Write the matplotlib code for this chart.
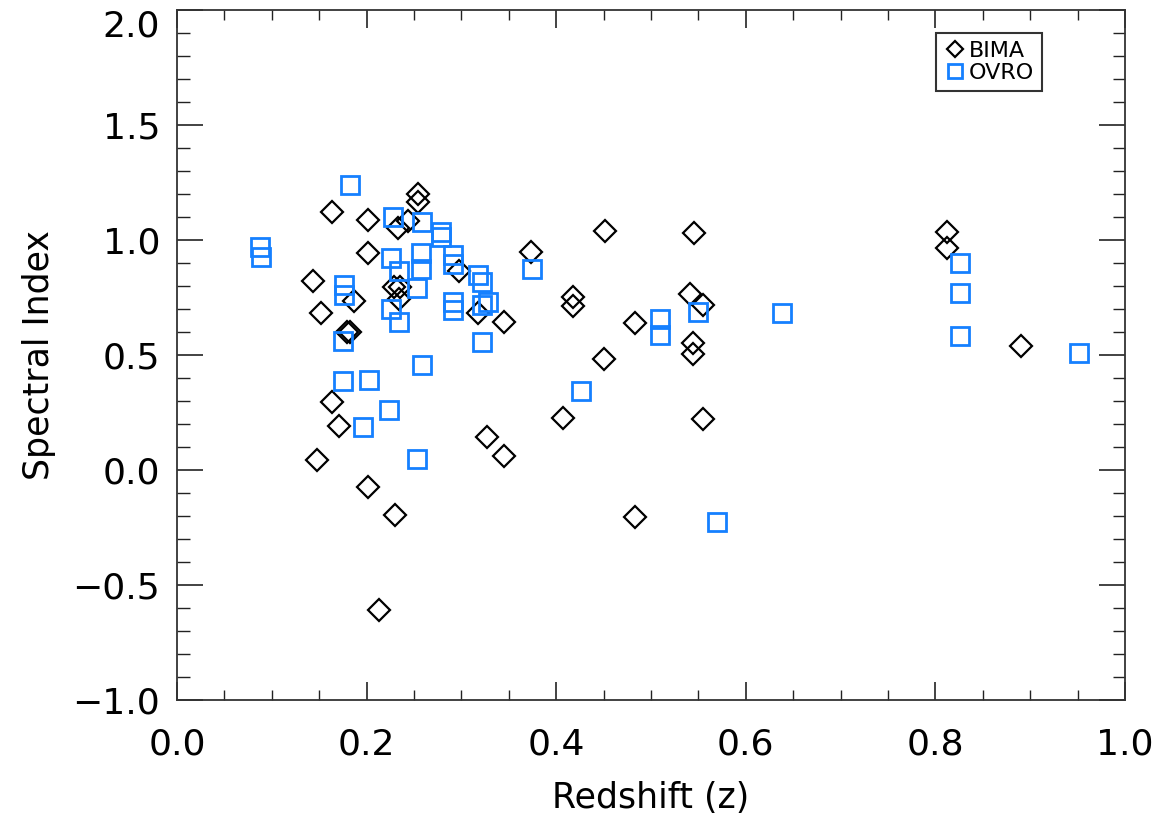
import matplotlib
matplotlib.use("Agg")
import matplotlib.pyplot as plt
from matplotlib.ticker import MultipleLocator

# BIMA points (redshift, spectral index)
bima_z = [0.164, 0.202, 0.202, 0.143, 0.187, 0.152, 0.179, 0.183, 0.164, 0.171,
          0.148, 0.202, 0.2295, 0.213, 0.2545, 0.2545, 0.244, 0.2334, 0.229, 0.235,
          0.2345, 0.2977, 0.3178, 0.3448, 0.373, 0.418, 0.418, 0.4067, 0.3266, 0.345,
          0.452, 0.5455, 0.483, 0.541, 0.555, 0.5445, 0.5445, 0.4506, 0.555, 0.483,
          0.8127, 0.8127, 0.890]
bima_alpha = [1.12, 1.087, 0.945, 0.822, 0.736, 0.684, 0.602, 0.598, 0.294, 0.191,
              0.043, -0.072, -0.196, -0.609, 1.20, 1.164, 1.083, 1.051, 0.795, 0.795,
              0.745, 0.865, 0.681, 0.645, 0.949, 0.754, 0.713, 0.225, 0.145, 0.061,
              1.039, 1.029, 0.638, 0.765, 0.717, 0.553, 0.504, 0.481, 0.222, -0.206,
              1.036, 0.964, 0.540]

# OVRO points
ovro_z = [0.088, 0.089, 0.1824, 0.176, 0.176, 0.175, 0.175, 0.203, 0.196, 0.224,
          0.253, 0.258, 0.2275, 0.258, 0.279, 0.279, 0.2257, 0.2573, 0.2573, 0.2907,
          0.2907, 0.2338, 0.2528, 0.2257, 0.2338, 0.2907, 0.2907, 0.3178, 0.3216, 0.3216,
          0.3276, 0.3216, 0.3747, 0.426, 0.5097, 0.5097, 0.5497, 0.5698, 0.6387, 0.8257,
          0.8257, 0.8257, 0.9515]
ovro_alpha = [0.971, 0.925, 1.239, 0.804, 0.761, 0.561, 0.388, 0.391, 0.188, 0.261,
              0.048, 0.455, 1.101, 1.080, 1.036, 1.014, 0.923, 0.945, 0.873, 0.935,
              0.894, 0.865, 0.790, 0.699, 0.645, 0.732, 0.696, 0.848, 0.819, 0.717,
              0.732, 0.558, 0.872, 0.345, 0.655, 0.587, 0.688, -0.225, 0.681, 0.899,
              0.771, 0.583, 0.510]

blue = "#1580ff"

fig = plt.figure(figsize=(11.64, 8.19), dpi=100)
ax = fig.add_axes([0.152, 0.1453, 0.8145, 0.8425])

ax.plot(bima_z, bima_alpha, linestyle="none", marker="D", ms=11.5,
        mfc="none", mec="black", mew=1.6, label="BIMA")
ax.plot(ovro_z, ovro_alpha, linestyle="none", marker="s", ms=13.5,
        mfc="none", mec=blue, mew=2.0, label="OVRO")

ax.set_xlim(0.0, 1.0)
ax.set_ylim(-1.0, 2.0)
ax.xaxis.set_major_locator(MultipleLocator(0.2))
ax.xaxis.set_minor_locator(MultipleLocator(0.05))
ax.yaxis.set_major_locator(MultipleLocator(0.5))
ax.yaxis.set_minor_locator(MultipleLocator(0.1))
ax.xaxis.set_major_formatter(plt.FuncFormatter(lambda v, p: "%.1f" % v))
ax.yaxis.set_major_formatter(plt.FuncFormatter(lambda v, p: ("%.1f" % v).replace("-", "\u2212")))

ax.tick_params(which="both", direction="in", top=True, right=True, labelsize=26, color="#222222")
ax.tick_params(axis="x", which="major", length=13, width=1.2, pad=20)
ax.tick_params(axis="x", which="minor", length=7, width=1.0)
ax.tick_params(axis="y", which="major", length=19, width=1.2, pad=12)
ax.tick_params(axis="y", which="minor", length=9, width=1.0)
for s in ax.spines.values():
    s.set_linewidth(1.3)
    s.set_color("#333333")

ax.set_xlabel("Redshift (z)", fontsize=25, labelpad=14)
ax.set_ylabel("Spectral Index", fontsize=25, labelpad=12)

# top label sits below its tick so it stays inside the figure
fig.canvas.draw()
for lab in ax.get_yticklabels():
    if lab.get_text() == "2.0":
        lab.set_verticalalignment("top")

leg = ax.legend(loc="upper right", bbox_to_anchor=(0.912, 0.967), fontsize=16,
                frameon=True, fancybox=False, borderpad=0.35, handletextpad=0.1,
                labelspacing=0.1, handlelength=1.0, borderaxespad=0,
                markerscale=0.7)
leg.get_frame().set_edgecolor("black")
leg.get_frame().set_linewidth(1.5)

fig.savefig("out.png", dpi=100)
